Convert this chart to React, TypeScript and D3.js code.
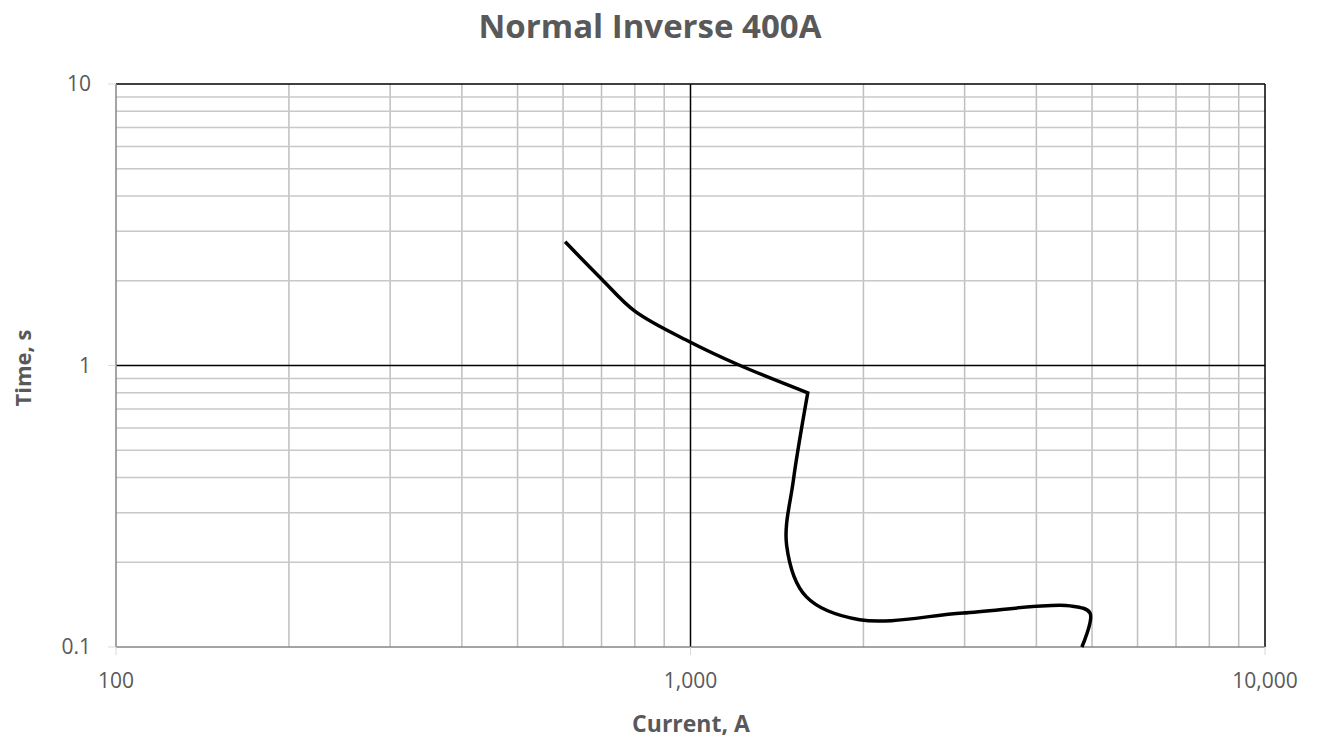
import React from "react";
import * as d3 from "d3";

// Inverse-time part of the curve (A, s)
const inverseCurrentA: number[] = [605, 700, 800, 1000, 1220, 1600];
const inverseTimeS: number[] = [2.75, 2.03, 1.56, 1.21, 1.0, 0.8];
// High-set part of the curve (A, s)
const highsetCurrentA: number[] = [1600, 1510, 1470, 1590, 1970, 2980, 4580, 4960, 4800];
const highsetTimeS: number[] = [0.8, 0.39, 0.23, 0.151, 0.125, 0.132, 0.14, 0.132, 0.1];

const xMajorTicks: number[] = [100, 1000, 10000];
const yMajorTicks: number[] = [0.1, 1, 10];
const xTickLabels: string[] = ["100", "1,000", "10,000"];
const yTickLabels: string[] = ["0.1", "1", "10"];

const W = 1318;
const H = 741;
const M = { left: 116, right: 1265, top: 84, bottom: 647 };
const FONT = "'Open Sans', Lato, sans-serif";
const TEXT = "#595959";

export default function App() {
  const x = d3.scaleLog().domain([100, 10000]).range([M.left, M.right]);
  const y = d3.scaleLog().domain([0.1, 10]).range([M.bottom, M.top]);

  const minorX: number[] = [];
  const minorY: number[] = [];
  for (const dec of [100, 1000]) for (let k = 2; k <= 9; k++) minorX.push(dec * k);
  for (const dec of [0.1, 1]) for (let k = 2; k <= 9; k++) minorY.push(dec * k);

  const seg1 = inverseCurrentA.map((c, i) => [c, inverseTimeS[i]] as [number, number]);
  const seg2 = highsetCurrentA.map((c, i) => [c, highsetTimeS[i]] as [number, number]);
  const line = d3
    .line<[number, number]>()
    .x((d) => x(d[0]))
    .y((d) => y(d[1]))
    .curve(d3.curveCatmullRom.alpha(0.5));
  const d2 = (line(seg2) || "").replace(/^M[^CLZ]*/, "");
  const pathD = (line(seg1) || "") + d2;

  return (
    <svg width={W} height={H} style={{ position: "absolute", left: 0, top: 0, background: "#fff" }}>
      <rect x={0} y={0} width={W} height={H} fill="#fff" />
      {minorX.map((v) => (
        <line key={"mx" + v} x1={x(v)} x2={x(v)} y1={M.top} y2={M.bottom} stroke="#bfbfbf" strokeWidth={1.5} />
      ))}
      {minorY.map((v) => (
        <line key={"my" + v} x1={M.left} x2={M.right} y1={y(v)} y2={y(v)} stroke="#c8c8c8" strokeWidth={1.5} />
      ))}
      {xMajorTicks.slice(1).map((v) => (
        <line key={"Mx" + v} x1={x(v)} x2={x(v)} y1={M.top} y2={M.bottom} stroke="#000" strokeWidth={1.5} />
      ))}
      {yMajorTicks.slice(1).map((v) => (
        <line key={"My" + v} x1={M.left} x2={M.right} y1={y(v)} y2={y(v)} stroke="#000" strokeWidth={1.5} />
      ))}
      <line x1={M.left} x2={M.left} y1={M.top} y2={M.bottom} stroke="#868686" strokeWidth={1.5} />
      <line x1={M.left} x2={M.right} y1={M.bottom} y2={M.bottom} stroke="#868686" strokeWidth={1.5} />
      {yMajorTicks.map((v) => (
        <line key={"ty" + v} x1={M.left - 8} x2={M.left} y1={y(v)} y2={y(v)} stroke="#d9d9d9" strokeWidth={1} />
      ))}
      {xMajorTicks.map((v) => (
        <line key={"tx" + v} x1={x(v)} x2={x(v)} y1={M.bottom} y2={M.bottom + 8} stroke="#d9d9d9" strokeWidth={1} />
      ))}
      <path d={pathD} fill="none" stroke="#000" strokeWidth={3.5} strokeLinejoin="miter" strokeLinecap="butt" />
      {yMajorTicks.map((v, i) => (
        <text key={"ly" + v} x={91} y={y(v)} dy="0.35em" textAnchor="end" fontFamily={FONT} fontSize={21} fill={TEXT}>
          {yTickLabels[i]}
        </text>
      ))}
      {xMajorTicks.map((v, i) => (
        <text key={"lx" + v} x={x(v)} y={681} dy="0.35em" textAnchor="middle" fontFamily={FONT} fontSize={21} fill={TEXT}>
          {xTickLabels[i]}
        </text>
      ))}
      <text x={650} y={26} dy="0.35em" textAnchor="middle" fontFamily={FONT} fontSize={33} fontWeight="bold" fill={TEXT}>
        Normal Inverse 400A
      </text>
      <text x={691} y={724} dy="0.35em" textAnchor="middle" fontFamily={FONT} fontSize={23} fontWeight="bold" fill={TEXT}>
        Current, A
      </text>
      <text
        transform={`translate(23,${368}) rotate(-90)`}
        dy="0.35em"
        textAnchor="middle"
        fontFamily={FONT}
        fontSize={22}
        fontWeight="bold"
        fill={TEXT}
      >
        Time, s
      </text>
    </svg>
  );
}
